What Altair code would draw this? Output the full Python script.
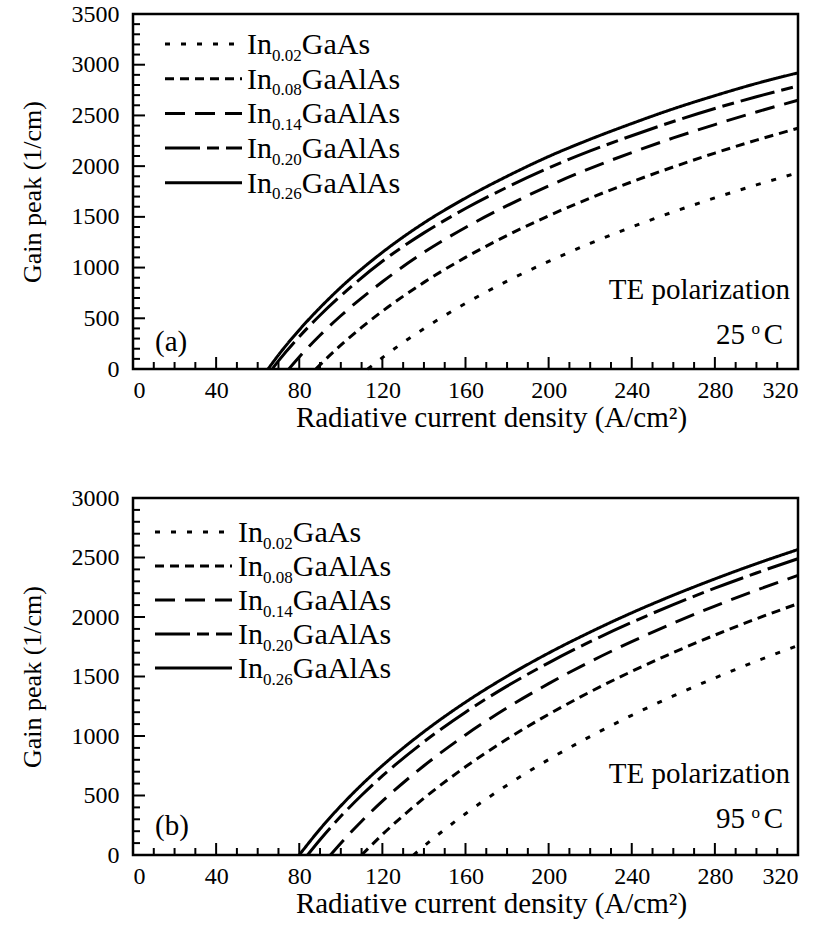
import altair as alt
import pandas as pd

FONT = "Liberation Serif"

# ---------------- data ----------------
series_names = ["In0.02GaAs", "In0.08GaAlAs", "In0.14GaAlAs", "In0.20GaAlAs", "In0.26GaAlAs"]
legend_subs = ["0.02", "0.08", "0.14", "0.20", "0.26"]
legend_rests = ["GaAs", "GaAlAs", "GaAlAs", "GaAlAs", "GaAlAs"]

x_major = [0, 40, 80, 120, 160, 200, 240, 280, 320]
x_minor = [10, 20, 30, 50, 60, 70, 90, 100, 110, 130, 140, 150, 170, 180, 190,
           210, 220, 230, 250, 260, 270, 290, 300, 310]

# panel (a): 25 C
a_J_002 = [113, 120, 140, 160, 180, 200, 220, 240, 260, 280, 300, 320]
a_g_002 = [0, 112, 398, 647, 866, 1061, 1238, 1400, 1549, 1687, 1815, 1935]
a_J_008 = [88, 90, 100, 110, 120, 140, 160, 180, 200, 220, 240, 260, 280, 300, 320]
a_g_008 = [0, 41, 235, 410, 570, 854, 1100, 1316, 1510, 1685, 1845, 1992, 2129, 2256, 2374]
a_J_014 = [75, 80, 90, 100, 120, 140, 160, 180, 200, 220, 240, 260, 280, 300, 320]
a_g_014 = [0, 118, 333, 525, 860, 1150, 1395, 1610, 1805, 1978, 2134, 2278, 2410, 2534, 2650]
a_J_020 = [67, 70, 80, 90, 100, 120, 140, 160, 180, 200, 220, 240, 260, 280, 300, 320]
a_g_020 = [0, 80, 318, 530, 722, 1062, 1342, 1582, 1792, 1982, 2150, 2300, 2440, 2568, 2684, 2790]
a_J_026 = [65, 70, 80, 90, 100, 120, 140, 160, 180, 200, 220, 240, 260, 280, 300, 320]
a_g_026 = [0, 138, 385, 605, 805, 1150, 1440, 1685, 1900, 2095, 2265, 2420, 2565, 2695, 2815, 2920]

# panel (b): 95 C
b_J_002 = [135, 140, 160, 180, 200, 220, 240, 260, 280, 300, 320]
b_g_002 = [0, 74, 347, 587, 802, 996, 1174, 1337, 1488, 1629, 1760]
b_J_008 = [110, 120, 140, 160, 180, 200, 220, 240, 260, 280, 300, 320]
b_g_008 = [0, 172, 477, 741, 974, 1182, 1371, 1543, 1701, 1848, 1985, 2112]
b_J_014 = [95, 100, 110, 120, 140, 160, 180, 200, 220, 240, 260, 280, 300, 320]
b_g_014 = [0, 99, 284, 452, 750, 1009, 1237, 1440, 1625, 1793, 1948, 2092, 2225, 2350]
b_J_020 = [84, 90, 100, 110, 120, 140, 160, 180, 200, 220, 240, 260, 280, 300, 320]
b_g_020 = [0, 128, 325, 502, 664, 951, 1200, 1419, 1615, 1793, 1955, 2104, 2242, 2370, 2490]
b_J_026 = [80, 90, 100, 110, 120, 140, 160, 180, 200, 220, 240, 260, 280, 300, 320]
b_g_026 = [0, 218, 413, 590, 751, 1036, 1284, 1502, 1697, 1873, 2035, 2183, 2320, 2448, 2567]

ann_pol = ["TE polarization"]
ann_a = ["(a)", "25", "o", "C"]
ann_b = ["(b)", "95", "o", "C"]

x_title = "Radiative current density (A/cm²)"
y_title = "Gain peak (1/cm)"

# ---------------- styling ----------------
dash_patterns = [[5, 11], [9, 6], [20, 10], [35, 7, 12, 7], [1, 0]]
W = 665
LEG_F = 30
SUB_F = 17
IN_W = 25.0
SUB_W = 29.75


def panel(J_lists, g_lists, ymax, H, ann, leg_line_x, leg_text_x, leg_top, leg_step):
    rows = []
    for name, Js, gs in zip(series_names, J_lists, g_lists):
        for j, g in zip(Js, gs):
            rows.append({"series": name, "J": j, "g": g})
    df = pd.DataFrame(rows)

    y_major = list(range(0, ymax + 1, 500))
    y_minor = [v for v in range(0, ymax + 1, 100) if v % 500]

    xs = alt.Scale(domain=[0, 320], nice=False, zero=False)
    ys = alt.Scale(domain=[0, ymax], nice=False)
    xax = alt.Axis(values=x_major, title=x_title, format="d", titleX=358)
    yax = alt.Axis(values=y_major, title=y_title, format="d")
    dash = alt.StrokeDash("series:N",
                          scale=alt.Scale(domain=series_names, range=dash_patterns),
                          legend=None)

    lines = alt.Chart(df).mark_line(color="black", strokeWidth=3,
                                    interpolate="monotone", strokeCap="butt").encode(
        x=alt.X("J:Q", scale=xs, axis=xax, title=x_title),
        y=alt.Y("g:Q", scale=ys, axis=yax, title=y_title),
        strokeDash=dash,
    )

    def xticks(vals, length):
        return alt.Chart(pd.DataFrame({"v": vals})).mark_rule(color="black", strokeWidth=2).encode(
            x=alt.X("v:Q", scale=xs, axis=xax, title=x_title),
            y=alt.value(H), y2=alt.value(H - length))

    def yticks(vals, length):
        return alt.Chart(pd.DataFrame({"v": vals})).mark_rule(color="black", strokeWidth=2).encode(
            y=alt.Y("v:Q", scale=ys, axis=yax, title=y_title),
            x=alt.value(0), x2=alt.value(length))

    leg = pd.DataFrame({"series": series_names, "sub": legend_subs, "rest": legend_rests})
    leg["ly"] = [ymax * (1 - (leg_top + i * leg_step) / H) for i in range(len(series_names))]
    ly = alt.Y("ly:Q", scale=ys, axis=yax, title=y_title)
    leg_rule = alt.Chart(leg).mark_rule(color="black", strokeWidth=3, strokeCap="butt").encode(
        x=alt.value(leg_line_x[0]), x2=alt.value(leg_line_x[1]), y=ly, strokeDash=dash)
    txt = dict(font=FONT, color="black", align="left", baseline="alphabetic")
    leg_in = alt.Chart(leg).mark_text(text="In", fontSize=LEG_F, dy=10, **txt).encode(
        x=alt.value(leg_text_x), y=ly)
    leg_sub = alt.Chart(leg).mark_text(fontSize=SUB_F, dy=16.5, **txt).encode(
        x=alt.value(leg_text_x + IN_W), y=ly, text="sub:N")
    leg_rest = alt.Chart(leg).mark_text(fontSize=LEG_F, dy=10, **txt).encode(
        x=alt.value(leg_text_x + IN_W + SUB_W), y=ly, text="rest:N")

    def note(s, x, y, size=29, align="right"):
        return alt.Chart(pd.DataFrame({"t": [s]})).mark_text(
            font=FONT, color="black", fontSize=size, align=align, baseline="alphabetic").encode(
            x=alt.value(x), y=alt.value(y), text="t:N")

    notes = [
        note(ann_pol[0], 657, 284.5),
        note(ann[0], 22, 337, align="left"),
        note(ann[1], 612, 330),
        note(ann[2], 627, 320, size=17),
        note(ann[3], 650, 330),
    ]

    return alt.layer(lines, xticks(x_major, 12), xticks(x_minor, 7),
                     yticks(y_major, 12), yticks(y_minor, 7),
                     leg_rule, leg_in, leg_sub, leg_rest, *notes).properties(width=W, height=H)


top = panel([a_J_002, a_J_008, a_J_014, a_J_020, a_J_026],
            [a_g_002, a_g_008, a_g_014, a_g_020, a_g_026],
            3500, 355, ann_a, (32, 109), 114, 30, 34.7)
bottom = panel([b_J_002, b_J_008, b_J_014, b_J_020, b_J_026],
               [b_g_002, b_g_008, b_g_014, b_g_020, b_g_026],
               3000, 357, ann_b, (22, 99), 105, 34, 34)

chart = alt.vconcat(top, bottom, spacing=129, bounds="flush").properties(
    padding={"left": 17, "top": 0, "right": 0, "bottom": 0}
).configure_view(stroke="black", strokeWidth=2.5).configure_axis(
    domain=False, ticks=False, grid=False,
    labelFont=FONT, labelFontSize=24, labelColor="black",
    titleFont=FONT, titleFontWeight="normal", titleColor="black",
).configure_axisX(titlePadding=1, labelPadding=9, titleFontSize=29
).configure_axisY(titlePadding=26, labelPadding=14, titleFontSize=26)

chart.save("out.html", embed_options={"renderer": "svg", "actions": False})
